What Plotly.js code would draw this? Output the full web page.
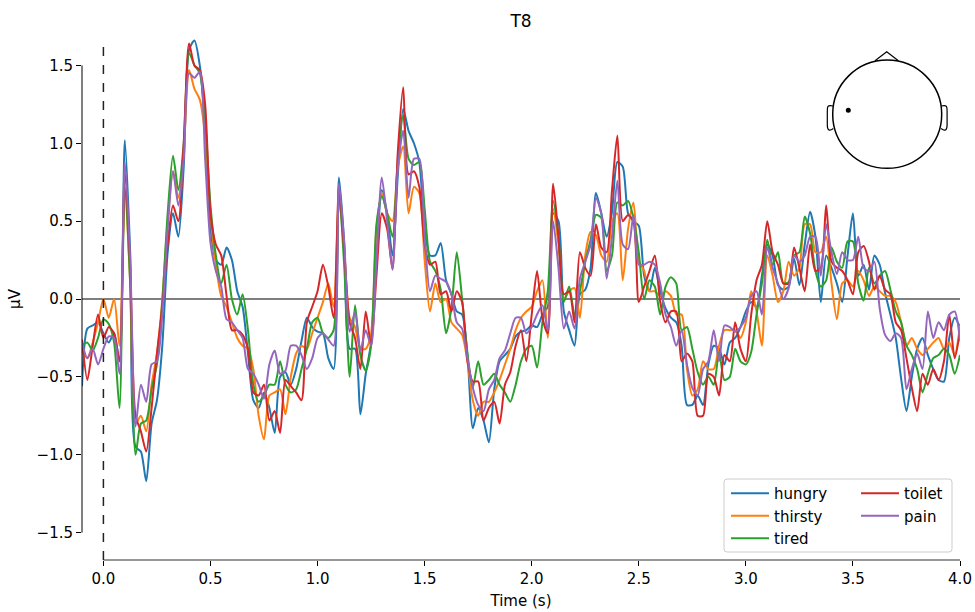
<!DOCTYPE html>
<html>
<head>
<meta charset="utf-8">
<script src="https://cdn.plot.ly/plotly-3.0.1.min.js"></script>
<style>html,body{margin:0;padding:0;background:#fff}</style>
</head>
<body>
<div id="chart" style="width:975px;height:612px"></div>
<script>
// sampling of the evoked responses (seconds)
const tStart = -0.1;
const tStep = 0.025;

const conditions = ["hungry", "thirsty", "tired", "toilet", "pain"];
const colors = ["#1f77b4", "#ff7f0e", "#2ca02c", "#d62728", "#9467bd"];

const hungry = [
 -0.56,-0.19,-0.17,-0.15,-0.22,-0.28,-0.22,-0.40,
  1.02, 0.30,-0.95,-0.98,-1.17,-0.80,-0.65,-0.30,
  0.30, 0.55, 0.40, 0.85, 1.60, 1.66, 1.50, 1.10,
  0.45, 0.25, 0.22, 0.33, 0.25, 0.05,-0.05,-0.35,
 -0.65,-0.70,-0.60,-0.70,-0.86,-0.50,-0.47,-0.55,
 -0.45,-0.27,-0.12,-0.18,-0.21,-0.22,-0.38,-0.45,
  0.78, 0.35,-0.32,-0.32,-0.74,-0.48,-0.28, 0.25,
  0.70, 0.55, 0.28, 0.80, 1.22, 1.08, 1.00, 0.88,
  0.45, 0.28, 0.28, 0.36, 0.12, 0.03,-0.08,-0.10,
 -0.36,-0.83,-0.70,-0.78,-0.92,-0.58,-0.40,-0.36,
 -0.32,-0.24,-0.21,-0.20,-0.17,-0.18,-0.10,-0.05,
  0.55, 0.50,-0.08,-0.20,-0.30, 0.03, 0.06, 0.20,
  0.68, 0.55, 0.40, 0.56, 0.88, 0.85, 0.55, 0.50,
  0.47, 0.15, 0.05, 0.20, 0.05,-0.06,-0.12,-0.15,
 -0.30,-0.68,-0.68,-0.62,-0.68,-0.42,-0.30,-0.32,
 -0.42,-0.28,-0.25,-0.18,-0.08,-0.02,-0.05, 0.15,
  0.35, 0.28, 0.09, 0.06, 0.08, 0.26, 0.09, 0.35,
  0.56, 0.40,-0.02, 0.28, 0.20, 0.10,-0.02, 0.28,
  0.55, 0.15, 0.22, 0.06, 0.28, 0.22, 0.04,-0.10,
 -0.25,-0.51,-0.72,-0.50,-0.32,-0.25,-0.36,-0.45,
 -0.52,-0.53,-0.25,-0.12,-0.18];

const thirsty = [
 -0.33,-0.38,-0.28,-0.15, 0.00,-0.12, 0.00,-0.30,
  0.70, 0.10,-0.80,-0.75,-0.85,-0.55,-0.35, 0.00,
  0.50, 0.82, 0.65, 0.95, 1.47, 1.35, 1.28, 1.05,
  0.55, 0.22, 0.02,-0.05,-0.15,-0.25,-0.30,-0.32,
 -0.45,-0.75,-0.90,-0.62,-0.60,-0.58,-0.74,-0.50,
 -0.35,-0.30,-0.32,-0.22,-0.12,-0.02, 0.10,-0.05,
  0.65, 0.30,-0.12,-0.18,-0.32,-0.32,-0.22, 0.45,
  0.68, 0.55, 0.50, 0.85, 0.98, 0.55, 0.72, 0.68,
  0.25,-0.08, 0.10,-0.02, 0.00,-0.15,-0.19,-0.23,
 -0.40,-0.65,-0.75,-0.66,-0.66,-0.60,-0.52,-0.42,
 -0.32,-0.20,-0.12,-0.08,-0.05, 0.05, 0.12,-0.25,
  0.58, 0.35, 0.00, 0.05, 0.07,-0.12, 0.28, 0.43,
  0.41, 0.28, 0.24, 0.50, 0.55, 0.12, 0.45, 0.62,
  0.25, 0.18, 0.05, 0.05, 0.02, 0.05, 0.02,-0.10,
 -0.10,-0.45,-0.62,-0.58,-0.40,-0.45,-0.45,-0.30,
 -0.20,-0.20,-0.20,-0.25,-0.15, 0.05,-0.08,-0.30,
  0.28, 0.15,-0.02, 0.05, 0.24, 0.15, 0.20, 0.48,
  0.48, 0.30, 0.30, 0.40, 0.10,-0.13, 0.10, 0.12,
  0.08, 0.18, 0.12, 0.02, 0.08, 0.05, 0.02, 0.02,
 -0.02,-0.15,-0.30,-0.25,-0.32,-0.36,-0.32,-0.28,
 -0.25,-0.32,-0.28,-0.36,-0.17];

const tired = [
 -0.30,-0.28,-0.33,-0.25,-0.13,-0.16,-0.28,-0.70,
  0.72, 0.10,-1.00,-0.80,-0.78,-0.58,-0.42,-0.02,
  0.55, 0.92, 0.70, 1.00, 1.58, 1.50, 1.45, 1.15,
  0.60, 0.28, 0.10, 0.22, 0.00,-0.10, 0.03,-0.20,
 -0.55,-0.66,-0.62,-0.55,-0.55,-0.40,-0.55,-0.60,
 -0.58,-0.45,-0.32,-0.15,-0.12,-0.22,-0.25,-0.20,
  0.68, 0.20,-0.50,-0.04,-0.36,-0.46,-0.30, 0.48,
  0.66, 0.55, 0.40, 0.90, 1.18, 0.90, 0.86, 0.88,
  0.58, 0.24, 0.18, 0.06,-0.22,-0.06, 0.30, 0.00,
 -0.35,-0.57,-0.40,-0.55,-0.52,-0.48,-0.55,-0.60,
 -0.66,-0.55,-0.40,-0.32,-0.30,-0.44,-0.15, 0.05,
  0.63, 0.40,-0.02, 0.08,-0.10, 0.05, 0.24, 0.38,
  0.54, 0.52, 0.18, 0.28, 0.62, 0.60, 0.63, 0.52,
  0.30, 0.00, 0.12, 0.08,-0.10, 0.08, 0.14, 0.10,
 -0.20,-0.18,-0.32,-0.47,-0.55,-0.50,-0.55,-0.34,
 -0.52,-0.50,-0.32,-0.40,-0.42,-0.34,-0.10, 0.10,
  0.38, 0.22, 0.30, 0.10, 0.11, 0.28, 0.30, 0.53,
  0.42, 0.18, 0.08, 0.12, 0.33, 0.24, 0.20, 0.37,
  0.37, 0.10,-0.01, 0.20, 0.10, 0.15, 0.18, 0.06,
 -0.08,-0.15,-0.30,-0.36,-0.45,-0.60,-0.48,-0.38,
 -0.36,-0.32,-0.36,-0.48,-0.36];

const toilet = [
 -0.26,-0.52,-0.30,-0.10,-0.25,-0.18,-0.22,-0.40,
  0.82, 0.20,-0.75,-0.85,-0.98,-0.70,-0.35,-0.05,
  0.35, 0.60, 0.50, 1.00, 1.64, 1.50, 1.47, 1.25,
  0.55, 0.35, 0.28, 0.02,-0.20,-0.20,-0.23,-0.32,
 -0.60,-0.62,-0.55,-0.78,-0.72,-0.86,-0.52,-0.56,
 -0.60,-0.65,-0.15,-0.05, 0.05, 0.22, 0.08,-0.12,
  0.72, 0.30,-0.15,-0.25,-0.45,-0.08,-0.30, 0.15,
  0.55, 0.45, 0.19, 0.95, 1.36, 0.80, 0.82, 0.72,
  0.35, 0.22, 0.24, 0.03, 0.05,-0.08, 0.05,-0.02,
 -0.40,-0.53,-0.53,-0.78,-0.70,-0.66,-0.80,-0.55,
 -0.47,-0.30,-0.20,-0.40,-0.10, 0.18,-0.12,-0.22,
  0.74, 0.40, 0.03, 0.05,-0.15, 0.30, 0.20, 0.15,
  0.48, 0.33, 0.30, 0.70, 1.05, 0.50, 0.54, 0.50,
 -0.02, 0.08, 0.18, 0.28,-0.02,-0.15,-0.08,-0.08,
 -0.40,-0.35,-0.40,-0.75,-0.75,-0.48,-0.50,-0.62,
 -0.36,-0.40,-0.15,-0.32,-0.40,-0.10, 0.12, 0.22,
  0.50, 0.30, 0.22, 0.10, 0.10, 0.33, 0.20, 0.05,
  0.35, 0.18, 0.20, 0.60, 0.24, 0.20, 0.18, 0.12,
  0.03, 0.30, 0.34, 0.24, 0.06, 0.15, 0.06, 0.03,
 -0.15,-0.20,-0.38,-0.57,-0.72,-0.48,-0.55,-0.45,
 -0.52,-0.40,-0.10,-0.38,-0.21];

const pain = [
 -0.28,-0.38,-0.32,-0.42,-0.32,-0.24,-0.25,-0.48,
  0.88, 0.25,-0.82,-0.55,-0.66,-0.42,-0.40,-0.10,
  0.45, 0.82, 0.60, 0.90, 1.45, 1.42, 1.46, 0.90,
  0.36, 0.18, 0.08,-0.13,-0.15,-0.20,-0.25,-0.45,
 -0.48,-0.55,-0.64,-0.42,-0.33,-0.48,-0.46,-0.30,
 -0.30,-0.36,-0.45,-0.38,-0.25,-0.22,-0.26,-0.30,
  0.74, 0.35,-0.21,-0.08,-0.33,-0.20,-0.30, 0.25,
  0.78, 0.50, 0.19, 0.85, 1.08, 0.65, 0.90, 0.90,
  0.40, 0.05, 0.15, 0.13, 0.11, 0.03,-0.15,-0.19,
 -0.38,-0.57,-0.68,-0.72,-0.58,-0.52,-0.38,-0.33,
 -0.22,-0.12,-0.12,-0.22,-0.18,-0.10,-0.04,-0.20,
  0.50, 0.20,-0.19,-0.08,-0.19, 0.13, 0.24, 0.35,
  0.65, 0.55, 0.13, 0.40, 0.76, 0.35, 0.32, 0.54,
  0.22, 0.22, 0.24, 0.22, 0.10,-0.10,-0.18,-0.30,
 -0.20,-0.42,-0.57,-0.62,-0.45,-0.40,-0.20,-0.40,
 -0.17,-0.18,-0.21,-0.18,-0.12, 0.02, 0.05,-0.10,
  0.33, 0.20, 0.10, 0.00, 0.07, 0.28, 0.24, 0.28,
  0.40, 0.40, 0.15, 0.48, 0.30, 0.16, 0.30, 0.25,
  0.25, 0.40, 0.20, 0.18, 0.24,-0.06,-0.23,-0.27,
 -0.22,-0.25,-0.58,-0.45,-0.35,-0.45,-0.08,-0.25,
 -0.15,-0.20,-0.10,-0.08,-0.27];

const series = [hungry, thirsty, tired, toilet, pain];
const xTicks = [0, 0.5, 1, 1.5, 2, 2.5, 3, 3.5, 4];
const yTicks = [-1.5, -1, -0.5, 0, 0.5, 1, 1.5];

const times = hungry.map((_, i) => +(tStart + tStep * i).toFixed(4));

const FONT = "DejaVu Sans, sans-serif";
const traces = series.map((vals, i) => ({
  type: "scatter", mode: "lines", x: times, y: vals, name: conditions[i],
  line: {color: colors[i], width: 2, shape: "spline", smoothing: 0.7},
  legend: i < 3 ? "legend" : "legend2", hoverinfo: "skip"
}));

// layout geometry (pixels)
const W = 975, H = 612, L = 82, R = 15, T = 38, B = 52;
const pw = W - L - R, ph = H - T - B;
const px = p => (p - L) / pw;
const py = p => (H - B - p) / ph;

const shapes = [
  {type: "line", xref: "paper", yref: "y", x0: 0, x1: 1, y0: 0, y1: 0, layer: "below", line: {color: "#555", width: 1.5}},
  {type: "line", xref: "x", yref: "paper", x0: 0, x1: 0, y0: 0, y1: 1, line: {color: "#222", width: 1.5, dash: "dash"}},
  {type: "line", xref: "paper", yref: "y", x0: 0, x1: 0, y0: -1.5, y1: 1.5, line: {color: "#000", width: 1}},
  {type: "line", xref: "x", yref: "paper", x0: 0, x1: 4, y0: 0, y1: 0, line: {color: "#333", width: 1.2}},
  // head outline
  {type: "circle", xref: "paper", yref: "paper", x0: px(832.7), x1: px(941.7), y0: py(168.3), y1: py(60), line: {color: "#000", width: 1.5}},
  {type: "path", xref: "paper", yref: "paper", line: {color: "#000", width: 1.2},
   path: `M${px(875)},${py(60.8)} L${px(886.7)},${py(51.7)} L${px(898.4)},${py(60.8)}`},
  {type: "path", xref: "paper", yref: "paper", line: {color: "#000", width: 1.2},
   path: `M${px(833)},${py(106)} C${px(827)},${py(104.5)} ${px(827.3)},${py(107)} ${px(827.3)},${py(112)} L${px(827.3)},${py(125)} C${px(827.3)},${py(130.5)} ${px(829.5)},${py(131.5)} ${px(833.3)},${py(128.5)}`},
  {type: "path", xref: "paper", yref: "paper", line: {color: "#000", width: 1.2},
   path: `M${px(941.4)},${py(106)} C${px(947.4)},${py(104.5)} ${px(947.1)},${py(107)} ${px(947.1)},${py(112)} L${px(947.1)},${py(125)} C${px(947.1)},${py(130.5)} ${px(944.9)},${py(131.5)} ${px(941.1)},${py(128.5)}`},
  {type: "circle", xref: "paper", yref: "paper", x0: px(845.8), x1: px(850.8), y0: py(112.8), y1: py(107.8), fillcolor: "#000", line: {color: "#000", width: 0}},
  // legend frame
  {type: "path", xref: "paper", yref: "paper", fillcolor: "rgba(255,255,255,0.8)", line: {color: "#cccccc", width: 1},
   path: `M${px(727)},${py(479)} L${px(949)},${py(479)} Q${px(952)},${py(479)} ${px(952)},${py(482)} L${px(952)},${py(549)} Q${px(952)},${py(552)} ${px(949)},${py(552)} L${px(727)},${py(552)} Q${px(724)},${py(552)} ${px(724)},${py(549)} L${px(724)},${py(482)} Q${px(724)},${py(479)} ${px(727)},${py(479)} Z`}
];

const legendCommon = {bgcolor: "rgba(0,0,0,0)", borderwidth: 0, font: {family: FONT, size: 15, color: "#000"},
  xanchor: "left", yanchor: "top", tracegroupgap: 0, itemwidth: 38, itemclick: false, itemdoubleclick: false};

const layout = {
  width: W, height: H,
  margin: {l: L, r: R, t: T, b: B, pad: 0},
  paper_bgcolor: "#fff", plot_bgcolor: "#fff",
  font: {family: FONT, size: 15, color: "#000"},
  title: {text: "T8", x: 0.5, xref: "paper", xanchor: "center", y: 1 - 21 / H, yref: "container", yanchor: "middle", font: {family: FONT, size: 17}},
  xaxis: {range: [-0.1, 4.0], tickvals: xTicks, tickformat: ".1f", ticks: "outside", ticklen: 5, tickwidth: 1, tickcolor: "#000",
          showgrid: false, zeroline: false, showline: false, title: {text: "Time (s)", font: {size: 15}, standoff: 8}, tickfont: {size: 15}},
  yaxis: {range: [-1.676, 1.676], tickvals: yTicks, tickformat: ".1f", ticks: "outside", ticklen: 5, tickwidth: 1, tickcolor: "#000",
          showgrid: false, zeroline: false, showline: false, title: {text: "µV", font: {size: 15}, standoff: 12}, tickfont: {size: 15}},
  shapes: shapes,
  legend: Object.assign({x: px(726), y: py(477)}, legendCommon),
  legend2: Object.assign({x: px(856), y: py(477)}, legendCommon),
  showlegend: true
};

Plotly.newPlot("chart", traces, layout, {staticPlot: true, displayModeBar: false});
</script>
</body>
</html>
